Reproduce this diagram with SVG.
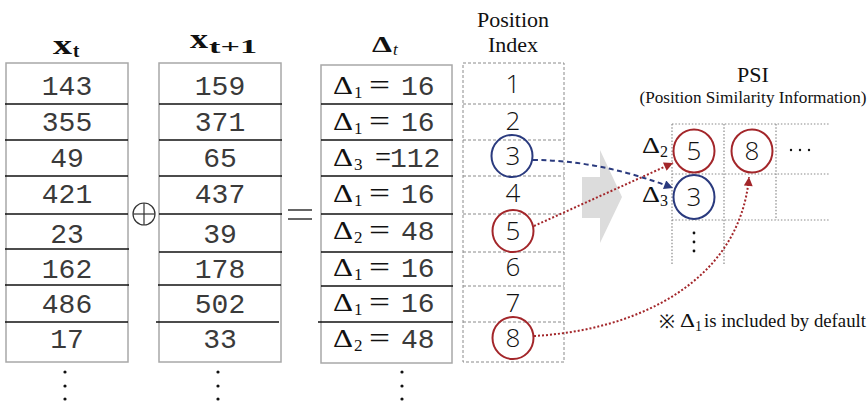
<svg xmlns="http://www.w3.org/2000/svg" width="868" height="401" viewBox="0 0 868 401">
<style>
.box{fill:none;stroke:#a8a8a8;stroke-width:1.5}
.sep{stroke:#111;stroke-width:1.3}
.dbox{fill:none;stroke:#8a8a8a;stroke-width:1;stroke-dasharray:3,2}
.dsep{stroke:#8a8a8a;stroke-width:1;stroke-dasharray:3,2}
.grid{stroke:#8a8a8a;stroke-width:1.2;stroke-dasharray:1.5,1.8}
.num{font-family:"Liberation Mono","Courier New",monospace;font-size:28px;fill:#3a3a3a;text-anchor:middle}
.mono{font-family:"Liberation Mono","Courier New",monospace;font-size:28px;fill:#3a3a3a}
.ser{font-family:"Liberation Serif","Times New Roman",serif;fill:#111}
.sans{font-family:"Open Sans","Liberation Sans",sans-serif;font-weight:300;font-size:26px;text-anchor:middle;fill:#111}
.dot{fill:#111}
.cr{fill:none;stroke:#a3262a;stroke-width:2}
.cb{fill:none;stroke:#2a3a7e;stroke-width:2}
</style>
<defs>
<marker id="ar" viewBox="0 0 10 10" refX="10" refY="5" markerWidth="11" markerHeight="9" markerUnits="userSpaceOnUse" orient="auto"><path d="M0,0 L10,5 L0,10 z" fill="#a3262a"/></marker>
<marker id="ab" viewBox="0 0 10 10" refX="10" refY="5" markerWidth="11" markerHeight="9" markerUnits="userSpaceOnUse" orient="auto"><path d="M0,0 L10,5 L0,10 z" fill="#2a3a7e"/></marker>
</defs>

<!-- headers -->
<g id="hdr-xt">
<text class="ser" x="53" y="54" font-size="28" font-weight="bold" textLength="19" lengthAdjust="spacingAndGlyphs">x</text>
<text class="ser" x="73" y="57" font-size="19" font-weight="bold">t</text>
</g>
<g id="hdr-xt1">
<text class="ser" x="190" y="48" font-size="28" font-weight="bold" textLength="18" lengthAdjust="spacingAndGlyphs">x</text>
<text class="ser" x="209" y="53" font-size="19" font-weight="bold" textLength="48" lengthAdjust="spacingAndGlyphs">t+1</text>
</g>
<g id="hdr-delta">
<text class="ser" x="372" y="52" font-size="24" font-weight="bold" textLength="20" lengthAdjust="spacingAndGlyphs">Δ</text>
<text class="ser" x="393" y="55" font-size="17" font-style="italic">t</text>
</g>
<g id="hdr-pos">
<text class="ser" x="513" y="27" font-size="22" text-anchor="middle">Position</text>
<text class="ser" x="513" y="52" font-size="22" text-anchor="middle">Index</text>
</g>

<!-- column x_t -->
<g id="col-xt">
<rect class="box" x="6" y="63" width="122" height="299"/>
<line class="sep" x1="5" y1="104" x2="128" y2="104"/>
<line class="sep" x1="5" y1="140" x2="128" y2="140"/>
<line class="sep" x1="5" y1="176" x2="128" y2="176"/>
<line class="sep" x1="5" y1="214" x2="128" y2="214"/>
<line class="sep" x1="5" y1="249" x2="129" y2="249"/>
<line class="sep" x1="5" y1="285" x2="129" y2="285"/>
<line class="sep" x1="5" y1="322" x2="128" y2="322"/>
<text class="num" x="67" y="95">143</text>
<text class="num" x="67" y="131">355</text>
<text class="num" x="67" y="167">49</text>
<text class="num" x="67" y="203">421</text>
<text class="num" x="67" y="243">23</text>
<text class="num" x="67" y="278">162</text>
<text class="num" x="67" y="313">486</text>
<text class="num" x="67" y="348">17</text>
<circle class="dot" cx="65" cy="372" r="1.6"/>
<circle class="dot" cx="65" cy="386" r="1.6"/>
<circle class="dot" cx="65" cy="399" r="1.6"/>
</g>

<g id="op-xor">
<circle cx="144" cy="214" r="11" fill="none" stroke="#333" stroke-width="1.2"/>
<line x1="133" y1="214" x2="155" y2="214" stroke="#333" stroke-width="1.2"/>
<line x1="144" y1="203" x2="144" y2="225" stroke="#333" stroke-width="1.2"/>
</g>

<!-- column x_t+1 -->
<g id="col-xt1">
<rect class="box" x="159" y="63" width="122" height="299"/>
<line class="sep" x1="159" y1="104" x2="282" y2="104"/>
<line class="sep" x1="159" y1="140" x2="282" y2="140"/>
<line class="sep" x1="159" y1="176" x2="282" y2="176"/>
<line class="sep" x1="159" y1="214" x2="282" y2="214"/>
<line class="sep" x1="159" y1="252" x2="282" y2="252"/>
<line class="sep" x1="158" y1="285" x2="281" y2="285"/>
<line class="sep" x1="156" y1="322" x2="279" y2="322"/>
<text class="num" x="220" y="95">159</text>
<text class="num" x="220" y="131">371</text>
<text class="num" x="220" y="167">65</text>
<text class="num" x="220" y="203">437</text>
<text class="num" x="220" y="243">39</text>
<text class="num" x="220" y="278">178</text>
<text class="num" x="220" y="313">502</text>
<text class="num" x="220" y="348">33</text>
<circle class="dot" cx="218" cy="372" r="1.6"/>
<circle class="dot" cx="218" cy="386" r="1.6"/>
<circle class="dot" cx="218" cy="399" r="1.6"/>
</g>

<g id="op-eq">
<line x1="288" y1="210" x2="312" y2="210" stroke="#333" stroke-width="1.5"/>
<line x1="288" y1="219" x2="312" y2="219" stroke="#333" stroke-width="1.5"/>
</g>

<!-- column delta -->
<g id="col-delta">
<rect class="box" x="321" y="65" width="131" height="298" stroke-width="2"/>
<line class="sep" x1="321" y1="104" x2="453" y2="104"/>
<line class="sep" x1="321" y1="140" x2="453" y2="140"/>
<line class="sep" x1="321" y1="176" x2="453" y2="176"/>
<line class="sep" x1="321" y1="214" x2="453" y2="214"/>
<line class="sep" x1="321" y1="252" x2="453" y2="252"/>
<line class="sep" x1="321" y1="286" x2="453" y2="286"/>
<line class="sep" x1="318" y1="322" x2="453" y2="322"/>

<text class="ser" x="333" y="94" font-size="26" textLength="20" lengthAdjust="spacingAndGlyphs">Δ</text><text class="ser" x="354" y="98" font-size="17">1</text><text class="ser" x="369" y="95" font-size="30" textLength="21" lengthAdjust="spacingAndGlyphs">=</text><text class="mono" x="401" y="95">16</text>
<text class="ser" x="333" y="130" font-size="26" textLength="20" lengthAdjust="spacingAndGlyphs">Δ</text><text class="ser" x="354" y="134" font-size="17">1</text><text class="ser" x="369" y="131" font-size="30" textLength="21" lengthAdjust="spacingAndGlyphs">=</text><text class="mono" x="401" y="131">16</text>
<text class="ser" x="333" y="166" font-size="26" textLength="20" lengthAdjust="spacingAndGlyphs">Δ</text><text class="ser" x="354" y="170" font-size="17">3</text><text class="ser" x="375" y="167" font-size="30" textLength="16" lengthAdjust="spacingAndGlyphs">=</text><text class="mono" x="390" y="167">112</text>
<text class="ser" x="333" y="202" font-size="26" textLength="20" lengthAdjust="spacingAndGlyphs">Δ</text><text class="ser" x="354" y="206" font-size="17">1</text><text class="ser" x="369" y="203" font-size="30" textLength="21" lengthAdjust="spacingAndGlyphs">=</text><text class="mono" x="401" y="203">16</text>
<text class="ser" x="333" y="239" font-size="26" textLength="20" lengthAdjust="spacingAndGlyphs">Δ</text><text class="ser" x="354" y="243" font-size="17">2</text><text class="ser" x="369" y="240" font-size="30" textLength="21" lengthAdjust="spacingAndGlyphs">=</text><text class="mono" x="401" y="240">48</text>
<text class="ser" x="333" y="276" font-size="26" textLength="20" lengthAdjust="spacingAndGlyphs">Δ</text><text class="ser" x="354" y="280" font-size="17">1</text><text class="ser" x="369" y="277" font-size="30" textLength="21" lengthAdjust="spacingAndGlyphs">=</text><text class="mono" x="401" y="277">16</text>
<text class="ser" x="333" y="311" font-size="26" textLength="20" lengthAdjust="spacingAndGlyphs">Δ</text><text class="ser" x="354" y="315" font-size="17">1</text><text class="ser" x="369" y="312" font-size="30" textLength="21" lengthAdjust="spacingAndGlyphs">=</text><text class="mono" x="401" y="312">16</text>
<text class="ser" x="333" y="347" font-size="26" textLength="20" lengthAdjust="spacingAndGlyphs">Δ</text><text class="ser" x="354" y="351" font-size="17">2</text><text class="ser" x="369" y="348" font-size="30" textLength="21" lengthAdjust="spacingAndGlyphs">=</text><text class="mono" x="401" y="348">48</text>
<circle class="dot" cx="402" cy="372" r="1.6"/>
<circle class="dot" cx="402" cy="386" r="1.6"/>
<circle class="dot" cx="402" cy="399" r="1.6"/>
</g>

<!-- position index -->
<g id="col-pos">
<rect class="dbox" x="463" y="63" width="101" height="299"/>
<line class="dsep" x1="463" y1="104" x2="564" y2="104"/>
<line class="dsep" x1="463" y1="140" x2="564" y2="140"/>
<line class="dsep" x1="463" y1="176" x2="564" y2="176"/>
<line class="dsep" x1="463" y1="214" x2="564" y2="214"/>
<line class="dsep" x1="463" y1="252" x2="564" y2="252"/>
<line class="dsep" x1="463" y1="286" x2="564" y2="286"/>
<line class="dsep" x1="463" y1="322" x2="564" y2="322"/>
<text class="sans" x="513" y="93">1</text>
<text class="sans" x="513" y="130">2</text>
<text class="sans" x="513" y="165" fill="#2a3a7e">3</text>
<text class="sans" x="513" y="202">4</text>
<text class="sans" x="513" y="240" fill="#a3262a">5</text>
<text class="sans" x="513" y="276">6</text>
<text class="sans" x="513" y="312">7</text>
<text class="sans" x="513" y="347" fill="#a3262a">8</text>
</g>
<g id="pos-c3"><ellipse class="cb" cx="512" cy="156" rx="20.5" ry="21"/></g>
<g id="pos-c5"><ellipse class="cr" cx="513" cy="231" rx="20.5" ry="21"/></g>
<g id="pos-c8"><ellipse class="cr" cx="513" cy="338" rx="20.5" ry="21"/></g>

<!-- big arrow -->
<g id="big-arrow">
<polygon points="582,177 600,177 600,150 622,197 600,243 600,218 582,218" fill="#dcdcdc"/>
</g>

<!-- PSI -->
<g id="psi-title">
<text class="ser" x="753" y="82" font-size="22" text-anchor="middle">PSI</text>
<text class="ser" x="753" y="103" font-size="17" text-anchor="middle" textLength="227" lengthAdjust="spacingAndGlyphs">(Position Similarity Information)</text>
</g>
<g id="psi-grid">
<line class="grid" x1="672" y1="124" x2="829" y2="124"/>
<line class="grid" x1="672" y1="174" x2="829" y2="174"/>
<line class="grid" x1="672" y1="220" x2="829" y2="220"/>
<line class="grid" x1="672" y1="124" x2="672" y2="264"/>
<line class="grid" x1="724" y1="124" x2="724" y2="264"/>
<line class="grid" x1="776" y1="124" x2="776" y2="220"/>
<text class="ser" x="642" y="153" font-size="24" textLength="18" lengthAdjust="spacingAndGlyphs">Δ</text>
<text class="ser" x="660" y="157" font-size="16">2</text>
<text class="ser" x="642" y="202" font-size="24" textLength="18" lengthAdjust="spacingAndGlyphs">Δ</text>
<text class="ser" x="660" y="206" font-size="16">3</text>
<circle class="dot" cx="791" cy="150" r="1.2"/>
<circle class="dot" cx="800" cy="150" r="1.2"/>
<circle class="dot" cx="809" cy="150" r="1.2"/>
<circle class="dot" cx="694" cy="233" r="1.4"/>
<circle class="dot" cx="694" cy="242" r="1.4"/>
<circle class="dot" cx="694" cy="251" r="1.4"/>
</g>
<g id="psi-c5"><ellipse class="cr" cx="694" cy="151" rx="20.5" ry="21.5"/><text class="sans" x="694" y="160" fill="#a3262a">5</text></g>
<g id="psi-c8"><ellipse class="cr" cx="752" cy="151" rx="20.5" ry="21.5"/><text class="sans" x="752" y="160" fill="#a3262a">8</text></g>
<g id="psi-c3"><ellipse class="cb" cx="694" cy="197" rx="20.5" ry="22"/><text class="sans" x="694" y="206">3</text></g>

<g id="note">
<text class="ser" x="659" y="328" font-size="19">※</text>
<text class="ser" x="680" y="327" font-size="19" textLength="15" lengthAdjust="spacingAndGlyphs">Δ</text>
<text class="ser" x="695" y="331" font-size="14">1</text>
<text class="ser" x="704" y="327" font-size="19" textLength="162" lengthAdjust="spacingAndGlyphs">is included by default</text>
</g>

<!-- connectors -->
<g id="connectors" fill="none">
<path d="M533,160 Q600,160 673,188" stroke="#2a3a7e" stroke-width="2" stroke-dasharray="5,3.5" marker-end="url(#ab)"/>
<path d="M534,226 L673,163" stroke="#a3262a" stroke-width="2" stroke-dasharray="2,2" marker-end="url(#ar)"/>
<path d="M534,336 C640,330 740,280 749,177" stroke="#a3262a" stroke-width="2" stroke-dasharray="2,2" marker-end="url(#ar)"/>
</g>
</svg>
